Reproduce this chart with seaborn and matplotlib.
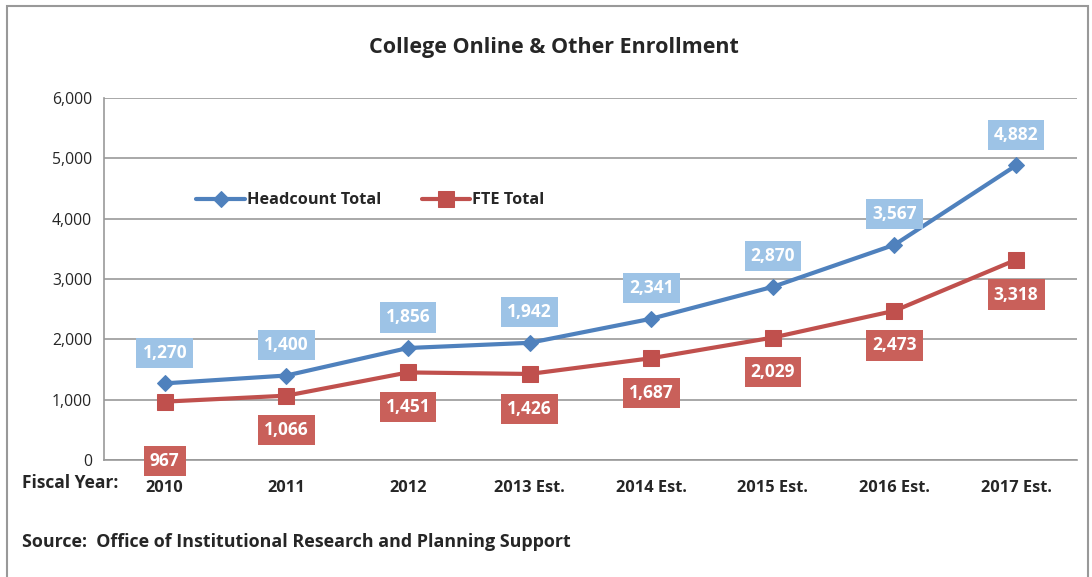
import pandas as pd
import matplotlib.pyplot as plt
import seaborn as sns
from matplotlib.patches import Rectangle
from matplotlib.ticker import FuncFormatter, FixedLocator

years = ["2010", "2011", "2012", "2013 Est.", "2014 Est.", "2015 Est.", "2016 Est.", "2017 Est."]
headcount = [1270, 1400, 1856, 1942, 2341, 2870, 3567, 4882]
fte = [967, 1066, 1451, 1426, 1687, 2029, 2473, 3318]

blue = "#4F81BD"
red = "#C0504D"
blue_box = "#9DC3E6"
red_box = "#C9605A"

sns.set_style("white")
plt.rcParams["font.family"] = ["Open Sans", "DejaVu Sans"]

fig = plt.figure(figsize=(10.92, 5.77), dpi=100)
ax = fig.add_axes([0.0952, 0.2028, 0.891, 0.6274])

df = pd.DataFrame({"year": years, "Headcount Total": headcount, "FTE Total": fte})

sns.lineplot(data=df, x="year", y="Headcount Total", sort=False, ax=ax, color=blue,
             marker="D", markersize=8, linewidth=3, markeredgecolor=blue,
             label="Headcount Total")
sns.lineplot(data=df, x="year", y="FTE Total", sort=False, ax=ax, color=red,
             marker="s", markersize=12, linewidth=3, markeredgecolor=red,
             label="FTE Total")

ax.set_ylim(0, 6000)
ax.set_xlim(-0.5, len(years) - 0.5)
ax.set_yticks(range(0, 6001, 1000))
ax.yaxis.set_major_formatter(FuncFormatter(lambda v, p: f"{int(v):,}"))
ax.grid(axis="y", color="#999999", linewidth=1.2)
ax.set_axisbelow(True)

# category boundary ticks
ax.xaxis.set_minor_locator(FixedLocator([i - 0.5 for i in range(len(years) + 1)]))
ax.tick_params(axis="x", which="minor", length=6, width=1.2, color="#999999", direction="out")
ax.tick_params(axis="x", which="major", length=0, pad=14.5)
ax.tick_params(axis="y", length=5, width=1.2, color="#999999", direction="out", labelsize=11.3)
for lab in ax.get_xticklabels():
    lab.set_fontweight("bold")
    lab.set_fontsize(11.8)

for s in ["top", "right"]:
    ax.spines[s].set_visible(False)
for s in ["left", "bottom"]:
    ax.spines[s].set_color("#999999")
    ax.spines[s].set_linewidth(1.2)

ax.set_xlabel("")
ax.set_ylabel("")

# data labels
for i, v in enumerate(headcount):
    ax.annotate(f"{v:,}", (i, v), xytext=(0, 22), textcoords="offset points",
                ha="center", va="center", color="white", fontsize=12.5, fontweight="bold",
                bbox=dict(boxstyle="square,pad=0.35", fc=blue_box, ec="none"))
for i, v in enumerate(fte):
    off = -43 if i == 0 else -25
    ax.annotate(f"{v:,}", (i, v), xytext=(0, off), textcoords="offset points",
                ha="center", va="center", color="white", fontsize=12.5, fontweight="bold",
                bbox=dict(boxstyle="square,pad=0.35", fc=red_box, ec="none"))

leg = ax.legend(loc="upper left", bbox_to_anchor=(0.08, 0.78), ncol=2, frameon=False,
                prop={"weight": "bold", "size": 11.7}, handlelength=3.0, columnspacing=2.5,
                handletextpad=0.1)

fig.text(0.507, 0.918, "College Online & Other Enrollment", ha="center", va="center",
         fontsize=15.5, fontweight="bold")
fig.text(0.020, 0.163, "Fiscal Year:", ha="left", va="center", fontsize=12.5, fontweight="bold")
fig.text(0.020, 0.061, "Source:  Office of Institutional Research and Planning Support",
         ha="left", va="center", fontsize=12.9, fontweight="bold")

fig.patches.append(Rectangle((0.0065, -0.02), 0.99, 1.01, transform=fig.transFigure,
                             fill=False, ec="#999999", lw=1.5))

fig.savefig("out.png", dpi=100)
